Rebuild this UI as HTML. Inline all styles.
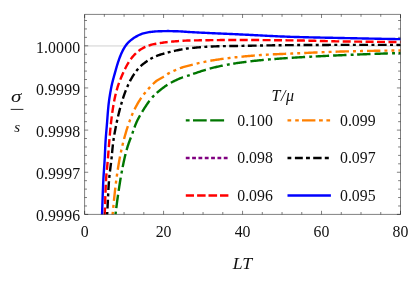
<!DOCTYPE html>
<html><head><meta charset="utf-8"><title>plot</title>
<style>
html,body{margin:0;padding:0;background:#fff}
svg{display:block;will-change:transform}
text{font-family:"Liberation Serif",serif;fill:#111}
.it{font-style:italic}
</style></head>
<body>
<svg width="415" height="286" viewBox="0 0 415 286">
<rect width="415" height="286" fill="#fff"/>
<defs><clipPath id="c"><rect x="84.6" y="14.4" width="315.9" height="200.0"/></clipPath></defs>
<line x1="84.6" y1="45.949999999999996" x2="400.5" y2="45.949999999999996" stroke="#d0d0d0" stroke-width="1"/>
<g clip-path="url(#c)" fill="none" stroke-width="2.4">
<path d="M114.60 222.80 L114.70 221.83 L114.80 220.85 L114.90 219.88 L115.00 218.90 L115.10 217.93 L115.21 216.96 L115.32 215.98 L115.43 215.01 L115.55 214.04 L115.66 213.07 L115.78 212.10 L115.90 211.12 L116.02 210.15 L116.14 209.18 L116.26 208.21 L116.38 207.24 L116.51 206.27 L116.63 205.29 L116.76 204.32 L116.89 203.35 L117.02 202.38 L117.15 201.41 L117.28 200.44 L117.41 199.47 L117.54 198.50 L117.68 197.53 L117.81 196.56 L117.95 195.59 L118.09 194.62 L118.23 193.65 L118.37 192.68 L118.51 191.71 L118.65 190.74 L118.80 189.77 L118.94 188.81 L119.09 187.84 L119.24 186.87 L119.39 185.90 L119.54 184.94 L119.69 183.97 L119.84 183.00 L120.00 182.04 L120.16 181.07 L120.31 180.11 L120.47 179.14 L120.63 178.18 L120.80 177.21 L120.96 176.25 L121.13 175.28 L121.30 174.32 L121.48 173.35 L121.65 172.39 L121.83 171.42 L122.01 170.46 L122.19 169.50 L122.37 168.54 L122.56 167.57 L122.75 166.61 L122.94 165.65 L123.14 164.69 L123.34 163.73 L123.54 162.78 L123.74 161.82 L123.95 160.86 L124.15 159.91 L124.37 158.95 L124.58 158.00 L124.80 157.04 L125.03 156.09 L125.26 155.14 L125.50 154.19 L125.74 153.24 L125.99 152.29 L126.24 151.34 L126.50 150.40 L126.77 149.46 L127.04 148.52 L127.32 147.58 L127.60 146.65 L127.90 145.71 L128.20 144.79 L128.52 143.86 L128.84 142.94 L129.18 142.02 L129.51 141.10 L129.85 140.18 L130.20 139.26 L130.54 138.34 L130.89 137.42 L131.23 136.50 L131.57 135.59 L131.91 134.67 L132.24 133.75 L132.57 132.82 L132.90 131.89 L133.22 130.97 L133.55 130.04 L133.87 129.11 L134.20 128.19 L134.53 127.26 L134.87 126.35 L135.22 125.43 L135.58 124.52 L135.95 123.62 L136.33 122.72 L136.72 121.83 L137.13 120.95 L137.55 120.07 L137.99 119.20 L138.44 118.33 L138.90 117.46 L139.37 116.60 L139.85 115.74 L140.33 114.88 L140.83 114.03 L141.33 113.19 L141.84 112.35 L142.35 111.51 L142.86 110.68 L143.38 109.85 L143.90 109.02 L144.42 108.20 L144.95 107.37 L145.49 106.54 L146.03 105.72 L146.58 104.89 L147.13 104.07 L147.69 103.26 L148.26 102.45 L148.84 101.65 L149.42 100.86 L150.02 100.09 L150.63 99.32 L151.24 98.57 L151.87 97.83 L152.51 97.11 L153.16 96.41 L153.83 95.71 L154.51 95.02 L155.21 94.34 L155.93 93.67 L156.66 93.01 L157.40 92.36 L158.15 91.72 L158.90 91.08 L159.67 90.46 L160.44 89.84 L161.22 89.23 L162.01 88.64 L162.79 88.05 L163.58 87.46 L164.37 86.89 L165.16 86.33 L165.97 85.77 L166.78 85.23 L167.61 84.70 L168.44 84.17 L169.28 83.67 L170.13 83.17 L170.98 82.69 L171.84 82.22 L172.70 81.77 L173.57 81.32 L174.45 80.89 L175.33 80.46 L176.22 80.04 L177.12 79.63 L178.01 79.23 L178.92 78.84 L179.82 78.47 L180.73 78.10 L181.64 77.75 L182.55 77.41 L183.47 77.08 L184.40 76.77 L185.33 76.47 L186.27 76.17 L187.20 75.87 L188.14 75.58 L189.07 75.28 L190.00 74.97 L190.93 74.67 L191.86 74.36 L192.79 74.05 L193.72 73.73 L194.65 73.42 L195.58 73.10 L196.51 72.79 L197.44 72.47 L198.37 72.16 L199.30 71.85 L200.23 71.54 L201.16 71.23 L202.10 70.92 L203.03 70.62 L203.96 70.32 L204.90 70.03 L205.83 69.74 L206.77 69.45 L207.71 69.18 L208.65 68.90 L209.59 68.64 L210.53 68.38 L211.47 68.13 L212.41 67.89 L213.36 67.65 L214.31 67.43 L215.26 67.21 L216.21 66.99 L217.16 66.78 L218.12 66.57 L219.07 66.36 L220.03 66.15 L220.99 65.95 L221.95 65.76 L222.91 65.56 L223.87 65.37 L224.83 65.18 L225.80 65.00 L226.76 64.82 L227.73 64.64 L228.69 64.46 L229.66 64.29 L230.62 64.12 L231.59 63.96 L232.56 63.80 L233.53 63.64 L234.49 63.48 L235.46 63.33 L236.43 63.18 L237.40 63.03 L238.36 62.89 L239.33 62.75 L240.30 62.62 L241.27 62.48 L242.24 62.35 L243.21 62.22 L244.18 62.09 L245.15 61.96 L246.12 61.84 L247.09 61.72 L248.06 61.60 L249.03 61.48 L250.01 61.36 L250.98 61.25 L251.95 61.14 L252.93 61.03 L253.90 60.92 L254.88 60.81 L255.85 60.71 L256.82 60.61 L257.80 60.50 L258.77 60.40 L259.75 60.31 L260.72 60.21 L261.70 60.12 L262.67 60.02 L263.65 59.93 L264.62 59.84 L265.59 59.75 L266.57 59.67 L267.54 59.58 L268.52 59.50 L269.49 59.41 L270.47 59.33 L271.45 59.25 L272.42 59.17 L273.40 59.09 L274.37 59.01 L275.35 58.93 L276.33 58.86 L277.30 58.78 L278.28 58.71 L279.26 58.63 L280.23 58.56 L281.21 58.49 L282.19 58.42 L283.16 58.35 L284.14 58.28 L285.12 58.22 L286.09 58.15 L287.07 58.08 L288.05 58.02 L289.02 57.95 L290.00 57.89 L290.98 57.83 L291.95 57.77 L292.93 57.70 L293.91 57.64 L294.89 57.58 L295.86 57.52 L296.84 57.47 L297.82 57.41 L298.79 57.35 L299.77 57.29 L300.75 57.23 L301.73 57.18 L302.70 57.12 L303.68 57.06 L304.66 57.01 L305.64 56.95 L306.61 56.90 L307.59 56.85 L308.57 56.79 L309.55 56.74 L310.52 56.69 L311.50 56.63 L312.48 56.58 L313.46 56.53 L314.43 56.48 L315.41 56.43 L316.39 56.38 L317.37 56.33 L318.35 56.28 L319.32 56.23 L320.30 56.18 L321.28 56.13 L322.26 56.08 L323.24 56.03 L324.21 55.99 L325.19 55.94 L326.17 55.89 L327.15 55.84 L328.13 55.80 L329.10 55.75 L330.08 55.71 L331.06 55.66 L332.04 55.62 L333.02 55.57 L333.99 55.53 L334.97 55.48 L335.95 55.44 L336.93 55.39 L337.91 55.35 L338.88 55.31 L339.86 55.26 L340.84 55.22 L341.82 55.18 L342.80 55.14 L343.78 55.09 L344.75 55.05 L345.73 55.01 L346.71 54.97 L347.69 54.93 L348.67 54.89 L349.64 54.85 L350.62 54.81 L351.60 54.77 L352.58 54.73 L353.56 54.69 L354.53 54.65 L355.51 54.61 L356.49 54.57 L357.47 54.53 L358.45 54.49 L359.43 54.45 L360.40 54.41 L361.38 54.37 L362.36 54.33 L363.34 54.30 L364.32 54.26 L365.30 54.22 L366.27 54.18 L367.25 54.15 L368.23 54.11 L369.21 54.07 L370.19 54.04 L371.17 54.00 L372.14 53.96 L373.12 53.93 L374.10 53.89 L375.08 53.86 L376.06 53.82 L377.04 53.79 L378.01 53.75 L378.99 53.72 L379.97 53.68 L380.95 53.65 L381.93 53.61 L382.91 53.58 L383.88 53.55 L384.86 53.52 L385.84 53.48 L386.82 53.45 L387.80 53.42 L388.78 53.39 L389.76 53.36 L390.73 53.32 L391.71 53.29 L392.69 53.26 L393.67 53.23 L394.65 53.20 L395.63 53.17 L396.61 53.14 L397.59 53.11 L398.56 53.08 L399.54 53.06 L400.52 53.03 L401.50 53.00" stroke="#007600" stroke-dasharray="13.4 4 13.4 4.2 2.9 3.54" stroke-dashoffset="26.62"/>
<path d="M111.80 222.80 L111.89 221.80 L111.98 220.79 L112.07 219.79 L112.17 218.79 L112.26 217.78 L112.36 216.78 L112.45 215.78 L112.55 214.77 L112.65 213.77 L112.75 212.77 L112.85 211.77 L112.95 210.76 L113.04 209.76 L113.14 208.76 L113.24 207.75 L113.34 206.75 L113.44 205.75 L113.54 204.75 L113.64 203.74 L113.74 202.74 L113.84 201.74 L113.94 200.73 L114.05 199.73 L114.15 198.73 L114.25 197.73 L114.36 196.72 L114.47 195.72 L114.57 194.72 L114.68 193.72 L114.79 192.72 L114.90 191.71 L115.01 190.71 L115.13 189.71 L115.24 188.71 L115.36 187.71 L115.47 186.71 L115.59 185.71 L115.71 184.71 L115.83 183.71 L115.96 182.71 L116.08 181.71 L116.21 180.71 L116.34 179.71 L116.47 178.72 L116.61 177.72 L116.74 176.72 L116.88 175.72 L117.02 174.72 L117.17 173.73 L117.31 172.73 L117.46 171.73 L117.61 170.73 L117.77 169.74 L117.92 168.74 L118.08 167.75 L118.24 166.75 L118.40 165.76 L118.57 164.76 L118.73 163.77 L118.90 162.77 L119.07 161.78 L119.25 160.79 L119.42 159.80 L119.60 158.81 L119.78 157.82 L119.97 156.83 L120.16 155.84 L120.36 154.85 L120.56 153.86 L120.76 152.87 L120.97 151.89 L121.19 150.90 L121.40 149.92 L121.63 148.94 L121.85 147.95 L122.08 146.97 L122.31 145.99 L122.54 145.01 L122.78 144.03 L123.02 143.05 L123.26 142.07 L123.51 141.10 L123.76 140.12 L124.02 139.14 L124.28 138.17 L124.54 137.20 L124.81 136.22 L125.08 135.25 L125.36 134.29 L125.64 133.32 L125.92 132.36 L126.21 131.39 L126.51 130.43 L126.81 129.47 L127.11 128.50 L127.41 127.54 L127.72 126.58 L128.04 125.62 L128.36 124.66 L128.69 123.70 L129.02 122.75 L129.36 121.79 L129.70 120.84 L130.05 119.90 L130.40 118.95 L130.77 118.01 L131.14 117.08 L131.51 116.15 L131.89 115.22 L132.28 114.30 L132.68 113.38 L133.10 112.47 L133.52 111.55 L133.95 110.63 L134.39 109.72 L134.83 108.81 L135.29 107.91 L135.76 107.01 L136.24 106.11 L136.72 105.22 L137.21 104.34 L137.72 103.46 L138.23 102.59 L138.74 101.72 L139.27 100.87 L139.80 100.02 L140.34 99.19 L140.89 98.36 L141.46 97.54 L142.04 96.72 L142.64 95.91 L143.25 95.10 L143.86 94.30 L144.49 93.51 L145.13 92.72 L145.78 91.94 L146.44 91.16 L147.10 90.40 L147.77 89.63 L148.44 88.88 L149.11 88.13 L149.79 87.38 L150.48 86.64 L151.16 85.91 L151.85 85.17 L152.56 84.44 L153.27 83.72 L154.00 83.01 L154.75 82.33 L155.51 81.69 L156.29 81.08 L157.11 80.51 L157.95 79.96 L158.81 79.44 L159.68 78.93 L160.57 78.43 L161.45 77.94 L162.33 77.43 L163.20 76.91 L164.05 76.37 L164.89 75.81 L165.72 75.23 L166.56 74.67 L167.40 74.12 L168.26 73.61 L169.14 73.13 L170.04 72.66 L170.94 72.21 L171.85 71.78 L172.77 71.35 L173.68 70.92 L174.60 70.50 L175.51 70.07 L176.43 69.64 L177.34 69.22 L178.27 68.82 L179.20 68.45 L180.14 68.11 L181.09 67.80 L182.05 67.50 L183.02 67.21 L183.99 66.94 L184.96 66.68 L185.94 66.42 L186.91 66.17 L187.89 65.92 L188.88 65.67 L189.86 65.42 L190.83 65.17 L191.81 64.91 L192.78 64.65 L193.75 64.38 L194.72 64.10 L195.69 63.82 L196.66 63.56 L197.64 63.31 L198.62 63.09 L199.60 62.87 L200.59 62.66 L201.58 62.45 L202.56 62.26 L203.55 62.06 L204.54 61.87 L205.53 61.68 L206.52 61.48 L207.51 61.29 L208.50 61.10 L209.49 60.91 L210.48 60.73 L211.47 60.55 L212.47 60.38 L213.46 60.22 L214.46 60.06 L215.45 59.91 L216.45 59.76 L217.44 59.61 L218.44 59.47 L219.44 59.32 L220.43 59.18 L221.43 59.04 L222.43 58.91 L223.43 58.77 L224.43 58.64 L225.43 58.51 L226.43 58.38 L227.43 58.25 L228.43 58.13 L229.43 58.01 L230.43 57.89 L231.43 57.77 L232.43 57.65 L233.43 57.54 L234.44 57.42 L235.44 57.31 L236.44 57.21 L237.44 57.10 L238.44 57.00 L239.45 56.90 L240.45 56.80 L241.45 56.70 L242.45 56.60 L243.45 56.50 L244.46 56.40 L245.46 56.31 L246.46 56.21 L247.47 56.12 L248.47 56.03 L249.48 55.94 L250.48 55.85 L251.48 55.76 L252.49 55.68 L253.49 55.60 L254.50 55.51 L255.50 55.43 L256.51 55.35 L257.51 55.28 L258.52 55.20 L259.52 55.13 L260.53 55.06 L261.53 54.99 L262.54 54.93 L263.54 54.86 L264.55 54.80 L265.55 54.74 L266.56 54.69 L267.56 54.63 L268.57 54.58 L269.58 54.52 L270.58 54.47 L271.59 54.42 L272.59 54.37 L273.60 54.32 L274.61 54.28 L275.61 54.23 L276.62 54.19 L277.63 54.14 L278.63 54.10 L279.64 54.05 L280.65 54.01 L281.65 53.97 L282.66 53.93 L283.67 53.89 L284.68 53.85 L285.68 53.80 L286.69 53.76 L287.70 53.72 L288.70 53.68 L289.71 53.64 L290.72 53.60 L291.72 53.55 L292.73 53.51 L293.74 53.47 L294.74 53.42 L295.75 53.38 L296.76 53.34 L297.76 53.29 L298.77 53.25 L299.78 53.20 L300.78 53.16 L301.79 53.11 L302.80 53.07 L303.80 53.02 L304.81 52.98 L305.82 52.93 L306.82 52.88 L307.83 52.84 L308.84 52.79 L309.84 52.75 L310.85 52.70 L311.86 52.66 L312.86 52.61 L313.87 52.57 L314.88 52.52 L315.88 52.48 L316.89 52.43 L317.90 52.39 L318.90 52.35 L319.91 52.30 L320.92 52.26 L321.92 52.22 L322.93 52.17 L323.94 52.13 L324.94 52.09 L325.95 52.05 L326.96 52.01 L327.96 51.97 L328.97 51.93 L329.98 51.90 L330.99 51.86 L331.99 51.82 L333.00 51.79 L334.01 51.75 L335.01 51.72 L336.02 51.68 L337.03 51.65 L338.03 51.62 L339.04 51.59 L340.05 51.56 L341.05 51.53 L342.06 51.50 L343.07 51.47 L344.08 51.45 L345.08 51.42 L346.09 51.40 L347.10 51.37 L348.10 51.35 L349.11 51.33 L350.12 51.31 L351.13 51.28 L352.13 51.26 L353.14 51.24 L354.15 51.21 L355.15 51.19 L356.16 51.17 L357.17 51.15 L358.18 51.13 L359.18 51.10 L360.19 51.08 L361.20 51.06 L362.21 51.04 L363.21 51.02 L364.22 51.00 L365.23 50.98 L366.24 50.96 L367.24 50.94 L368.25 50.92 L369.26 50.90 L370.26 50.88 L371.27 50.86 L372.28 50.85 L373.29 50.83 L374.29 50.81 L375.30 50.79 L376.31 50.78 L377.32 50.76 L378.32 50.74 L379.33 50.73 L380.34 50.71 L381.35 50.70 L382.35 50.68 L383.36 50.67 L384.37 50.65 L385.38 50.64 L386.38 50.63 L387.39 50.62 L388.40 50.60 L389.41 50.59 L390.42 50.58 L391.42 50.57 L392.43 50.56 L393.44 50.55 L394.45 50.54 L395.45 50.54 L396.46 50.53 L397.47 50.52 L398.48 50.52 L399.48 50.51 L400.49 50.50 L401.50 50.50" stroke="#ff8000" stroke-dasharray="13.4 4.05 2.95 4.05 2.95 4.015" stroke-dashoffset="9.385"/>
<path d="M106.60 222.80 L106.67 221.73 L106.75 220.66 L106.82 219.59 L106.89 218.52 L106.96 217.45 L107.03 216.38 L107.10 215.31 L107.16 214.24 L107.23 213.17 L107.29 212.10 L107.35 211.03 L107.40 209.96 L107.46 208.89 L107.52 207.82 L107.57 206.74 L107.62 205.67 L107.67 204.60 L107.73 203.53 L107.78 202.46 L107.83 201.39 L107.88 200.32 L107.93 199.24 L107.98 198.17 L108.03 197.10 L108.09 196.03 L108.14 194.96 L108.19 193.89 L108.25 192.82 L108.31 191.75 L108.36 190.68 L108.42 189.60 L108.48 188.53 L108.55 187.46 L108.61 186.40 L108.68 185.33 L108.75 184.26 L108.83 183.19 L108.90 182.12 L108.98 181.05 L109.06 179.98 L109.16 178.92 L109.25 177.85 L109.36 176.78 L109.47 175.72 L109.59 174.65 L109.71 173.59 L109.83 172.52 L109.96 171.46 L110.09 170.39 L110.22 169.33 L110.36 168.26 L110.49 167.20 L110.63 166.13 L110.76 165.07 L110.89 164.00 L111.02 162.94 L111.15 161.87 L111.28 160.81 L111.40 159.74 L111.51 158.68 L111.62 157.61 L111.73 156.54 L111.84 155.48 L111.94 154.41 L112.04 153.34 L112.14 152.27 L112.24 151.20 L112.34 150.14 L112.44 149.07 L112.55 148.00 L112.66 146.93 L112.77 145.87 L112.89 144.80 L113.01 143.74 L113.14 142.68 L113.28 141.62 L113.42 140.55 L113.57 139.49 L113.73 138.43 L113.90 137.37 L114.07 136.32 L114.25 135.26 L114.43 134.20 L114.62 133.14 L114.81 132.09 L115.01 131.03 L115.21 129.98 L115.41 128.92 L115.62 127.87 L115.83 126.82 L116.04 125.77 L116.26 124.71 L116.47 123.67 L116.69 122.62 L116.91 121.57 L117.14 120.52 L117.36 119.47 L117.60 118.43 L117.83 117.38 L118.08 116.34 L118.32 115.29 L118.57 114.25 L118.83 113.20 L119.09 112.16 L119.35 111.12 L119.62 110.08 L119.89 109.04 L120.17 108.00 L120.45 106.97 L120.73 105.93 L121.02 104.90 L121.32 103.87 L121.62 102.85 L121.92 101.82 L122.23 100.80 L122.55 99.77 L122.87 98.75 L123.21 97.73 L123.54 96.71 L123.89 95.69 L124.24 94.67 L124.60 93.66 L124.97 92.65 L125.35 91.64 L125.73 90.64 L126.13 89.64 L126.53 88.65 L126.93 87.66 L127.35 86.68 L127.78 85.70 L128.22 84.73 L128.68 83.75 L129.15 82.78 L129.63 81.82 L130.12 80.86 L130.63 79.91 L131.15 78.97 L131.68 78.04 L132.22 77.12 L132.78 76.21 L133.34 75.31 L133.93 74.40 L134.53 73.50 L135.14 72.61 L135.78 71.73 L136.42 70.86 L137.09 70.02 L137.77 69.19 L138.47 68.39 L139.18 67.61 L139.92 66.86 L140.69 66.12 L141.49 65.40 L142.31 64.70 L143.15 64.01 L144.01 63.35 L144.87 62.70 L145.74 62.07 L146.62 61.46 L147.50 60.86 L148.40 60.27 L149.30 59.69 L150.23 59.13 L151.16 58.58 L152.10 58.05 L153.05 57.55 L154.01 57.07 L154.98 56.62 L155.96 56.21 L156.94 55.82 L157.94 55.45 L158.96 55.10 L159.98 54.76 L161.01 54.43 L162.04 54.12 L163.07 53.81 L164.11 53.52 L165.14 53.23 L166.17 52.94 L167.21 52.66 L168.24 52.39 L169.28 52.12 L170.32 51.86 L171.37 51.60 L172.41 51.35 L173.46 51.11 L174.50 50.87 L175.55 50.64 L176.60 50.42 L177.65 50.21 L178.70 50.00 L179.75 49.80 L180.81 49.60 L181.86 49.40 L182.92 49.20 L183.98 49.02 L185.04 48.84 L186.10 48.68 L187.16 48.53 L188.22 48.39 L189.28 48.27 L190.35 48.15 L191.41 48.04 L192.47 47.93 L193.54 47.82 L194.61 47.72 L195.67 47.61 L196.74 47.51 L197.81 47.42 L198.88 47.32 L199.95 47.23 L201.02 47.14 L202.09 47.06 L203.16 46.98 L204.23 46.90 L205.30 46.83 L206.38 46.76 L207.45 46.70 L208.52 46.64 L209.59 46.58 L210.66 46.53 L211.73 46.48 L212.80 46.44 L213.87 46.40 L214.94 46.37 L216.02 46.34 L217.09 46.31 L218.16 46.28 L219.23 46.25 L220.30 46.23 L221.37 46.21 L222.44 46.18 L223.52 46.16 L224.59 46.14 L225.66 46.12 L226.73 46.10 L227.81 46.08 L228.88 46.06 L229.95 46.05 L231.02 46.03 L232.10 46.01 L233.17 46.00 L234.24 45.98 L235.31 45.96 L236.39 45.94 L237.46 45.93 L238.53 45.91 L239.60 45.89 L240.67 45.87 L241.75 45.85 L242.82 45.83 L243.89 45.81 L244.96 45.79 L246.03 45.78 L247.11 45.76 L248.18 45.74 L249.25 45.72 L250.32 45.70 L251.39 45.68 L252.47 45.66 L253.54 45.64 L254.61 45.62 L255.68 45.60 L256.75 45.58 L257.83 45.56 L258.90 45.54 L259.97 45.53 L261.04 45.51 L262.11 45.49 L263.19 45.47 L264.26 45.45 L265.33 45.43 L266.40 45.42 L267.48 45.40 L268.55 45.38 L269.62 45.37 L270.69 45.35 L271.76 45.33 L272.84 45.32 L273.91 45.30 L274.98 45.29 L276.05 45.27 L277.12 45.26 L278.20 45.24 L279.27 45.23 L280.34 45.22 L281.41 45.20 L282.49 45.19 L283.56 45.18 L284.63 45.17 L285.70 45.16 L286.77 45.15 L287.85 45.14 L288.92 45.13 L289.99 45.12 L291.06 45.11 L292.13 45.11 L293.21 45.10 L294.28 45.09 L295.35 45.09 L296.42 45.08 L297.50 45.07 L298.57 45.07 L299.64 45.06 L300.71 45.05 L301.78 45.05 L302.86 45.04 L303.93 45.04 L305.00 45.03 L306.07 45.02 L307.14 45.02 L308.22 45.01 L309.29 45.01 L310.36 45.00 L311.43 45.00 L312.51 44.99 L313.58 44.99 L314.65 44.98 L315.72 44.98 L316.79 44.97 L317.87 44.97 L318.94 44.96 L320.01 44.96 L321.08 44.95 L322.16 44.95 L323.23 44.95 L324.30 44.94 L325.37 44.94 L326.44 44.93 L327.52 44.93 L328.59 44.93 L329.66 44.92 L330.73 44.92 L331.81 44.92 L332.88 44.92 L333.95 44.91 L335.02 44.91 L336.09 44.91 L337.17 44.91 L338.24 44.91 L339.31 44.90 L340.38 44.90 L341.46 44.90 L342.53 44.90 L343.60 44.90 L344.67 44.90 L345.74 44.90 L346.82 44.90 L347.89 44.90 L348.96 44.90 L350.03 44.90 L351.11 44.90 L352.18 44.90 L353.25 44.90 L354.32 44.90 L355.39 44.90 L356.47 44.90 L357.54 44.90 L358.61 44.90 L359.68 44.90 L360.76 44.90 L361.83 44.90 L362.90 44.90 L363.97 44.90 L365.04 44.90 L366.12 44.90 L367.19 44.90 L368.26 44.90 L369.33 44.90 L370.41 44.90 L371.48 44.90 L372.55 44.90 L373.62 44.90 L374.69 44.90 L375.77 44.90 L376.84 44.90 L377.91 44.90 L378.98 44.90 L380.06 44.90 L381.13 44.90 L382.20 44.90 L383.27 44.90 L384.34 44.90 L385.42 44.90 L386.49 44.90 L387.56 44.90 L388.63 44.90 L389.71 44.90 L390.78 44.90 L391.85 44.90 L392.92 44.90 L393.99 44.90 L395.07 44.90 L396.14 44.90 L397.21 44.90 L398.28 44.90 L399.36 44.90 L400.43 44.90 L401.50 44.90" stroke="#000000" stroke-dasharray="8.8 3.4 2.97 3.4" stroke-dashoffset="4.295"/>
<path d="M104.40 222.80 L104.44 221.69 L104.49 220.58 L104.53 219.47 L104.58 218.36 L104.62 217.25 L104.67 216.13 L104.71 215.02 L104.75 213.91 L104.79 212.80 L104.83 211.69 L104.87 210.58 L104.91 209.47 L104.95 208.36 L104.99 207.24 L105.02 206.13 L105.06 205.02 L105.10 203.91 L105.13 202.80 L105.17 201.69 L105.20 200.58 L105.24 199.46 L105.28 198.35 L105.31 197.24 L105.35 196.13 L105.39 195.02 L105.43 193.91 L105.47 192.80 L105.51 191.69 L105.55 190.57 L105.60 189.46 L105.64 188.35 L105.69 187.24 L105.74 186.13 L105.79 185.02 L105.84 183.91 L105.90 182.80 L105.95 181.69 L106.01 180.58 L106.08 179.48 L106.15 178.37 L106.23 177.26 L106.31 176.15 L106.40 175.04 L106.49 173.93 L106.59 172.83 L106.69 171.72 L106.80 170.61 L106.90 169.51 L107.01 168.40 L107.12 167.29 L107.22 166.18 L107.33 165.08 L107.44 163.97 L107.54 162.86 L107.64 161.75 L107.74 160.65 L107.84 159.54 L107.93 158.43 L108.02 157.32 L108.11 156.21 L108.19 155.11 L108.28 154.00 L108.36 152.89 L108.45 151.78 L108.53 150.67 L108.61 149.56 L108.70 148.45 L108.78 147.35 L108.87 146.24 L108.96 145.13 L109.05 144.02 L109.14 142.91 L109.23 141.81 L109.33 140.70 L109.42 139.59 L109.52 138.48 L109.61 137.37 L109.71 136.27 L109.81 135.16 L109.91 134.05 L110.01 132.94 L110.11 131.84 L110.21 130.73 L110.32 129.62 L110.42 128.51 L110.53 127.41 L110.65 126.30 L110.76 125.20 L110.88 124.09 L111.00 122.99 L111.12 121.88 L111.25 120.78 L111.38 119.68 L111.52 118.57 L111.65 117.47 L111.79 116.36 L111.93 115.26 L112.08 114.15 L112.23 113.05 L112.38 111.95 L112.54 110.85 L112.70 109.74 L112.87 108.64 L113.04 107.55 L113.21 106.45 L113.40 105.35 L113.58 104.26 L113.77 103.17 L113.97 102.07 L114.17 100.98 L114.39 99.89 L114.61 98.81 L114.84 97.72 L115.09 96.63 L115.34 95.54 L115.60 94.46 L115.87 93.38 L116.15 92.30 L116.43 91.22 L116.73 90.15 L117.03 89.08 L117.34 88.01 L117.65 86.95 L117.98 85.90 L118.33 84.84 L118.69 83.79 L119.07 82.75 L119.46 81.70 L119.87 80.66 L120.28 79.63 L120.70 78.60 L121.13 77.57 L121.57 76.54 L122.00 75.52 L122.44 74.50 L122.89 73.48 L123.34 72.47 L123.81 71.45 L124.28 70.43 L124.76 69.43 L125.25 68.42 L125.75 67.43 L126.27 66.45 L126.80 65.47 L127.34 64.51 L127.90 63.56 L128.48 62.62 L129.08 61.67 L129.69 60.73 L130.33 59.81 L130.98 58.89 L131.66 57.99 L132.35 57.12 L133.06 56.27 L133.78 55.44 L134.53 54.65 L135.31 53.86 L136.11 53.08 L136.95 52.32 L137.80 51.58 L138.68 50.87 L139.58 50.19 L140.49 49.56 L141.41 48.97 L142.35 48.43 L143.32 47.90 L144.31 47.40 L145.33 46.91 L146.36 46.46 L147.41 46.03 L148.46 45.64 L149.52 45.29 L150.57 44.98 L151.63 44.70 L152.71 44.44 L153.79 44.20 L154.88 43.97 L155.98 43.76 L157.08 43.57 L158.19 43.38 L159.29 43.20 L160.39 43.03 L161.49 42.87 L162.59 42.71 L163.69 42.56 L164.79 42.41 L165.89 42.27 L167.00 42.13 L168.10 42.00 L169.21 41.88 L170.32 41.77 L171.42 41.66 L172.53 41.56 L173.64 41.46 L174.74 41.37 L175.85 41.28 L176.96 41.19 L178.07 41.10 L179.18 41.01 L180.29 40.93 L181.40 40.85 L182.51 40.78 L183.62 40.71 L184.73 40.65 L185.84 40.60 L186.95 40.56 L188.06 40.52 L189.17 40.50 L190.28 40.47 L191.39 40.45 L192.50 40.43 L193.61 40.41 L194.72 40.39 L195.84 40.37 L196.95 40.36 L198.06 40.34 L199.17 40.32 L200.28 40.30 L201.39 40.28 L202.50 40.27 L203.61 40.25 L204.73 40.24 L205.84 40.22 L206.95 40.21 L208.06 40.19 L209.17 40.18 L210.29 40.17 L211.40 40.15 L212.51 40.14 L213.62 40.13 L214.73 40.12 L215.85 40.11 L216.96 40.10 L218.07 40.09 L219.18 40.08 L220.29 40.07 L221.41 40.06 L222.52 40.06 L223.63 40.05 L224.74 40.04 L225.85 40.04 L226.97 40.03 L228.08 40.02 L229.19 40.02 L230.30 40.02 L231.41 40.01 L232.53 40.01 L233.64 40.01 L234.75 40.00 L235.86 40.00 L236.97 40.00 L238.09 40.00 L239.20 40.00 L240.31 40.00 L241.42 40.00 L242.53 40.00 L243.64 40.00 L244.76 40.01 L245.87 40.01 L246.98 40.01 L248.09 40.02 L249.20 40.02 L250.32 40.02 L251.43 40.03 L252.54 40.04 L253.65 40.04 L254.76 40.05 L255.87 40.05 L256.99 40.06 L258.10 40.07 L259.21 40.07 L260.32 40.08 L261.43 40.09 L262.54 40.10 L263.66 40.11 L264.77 40.12 L265.88 40.13 L266.99 40.13 L268.10 40.14 L269.22 40.15 L270.33 40.16 L271.44 40.17 L272.55 40.19 L273.66 40.20 L274.77 40.21 L275.89 40.22 L277.00 40.23 L278.11 40.24 L279.22 40.25 L280.33 40.26 L281.44 40.27 L282.56 40.29 L283.67 40.30 L284.78 40.31 L285.89 40.32 L287.00 40.33 L288.11 40.35 L289.23 40.36 L290.34 40.37 L291.45 40.38 L292.56 40.40 L293.67 40.41 L294.78 40.42 L295.90 40.44 L297.01 40.45 L298.12 40.47 L299.23 40.49 L300.34 40.51 L301.45 40.53 L302.57 40.55 L303.68 40.57 L304.79 40.59 L305.90 40.61 L307.01 40.64 L308.12 40.66 L309.23 40.69 L310.35 40.71 L311.46 40.74 L312.57 40.77 L313.68 40.79 L314.79 40.82 L315.90 40.85 L317.01 40.88 L318.13 40.90 L319.24 40.93 L320.35 40.96 L321.46 40.99 L322.57 41.02 L323.68 41.04 L324.79 41.07 L325.91 41.10 L327.02 41.13 L328.13 41.15 L329.24 41.18 L330.35 41.21 L331.46 41.23 L332.58 41.26 L333.69 41.28 L334.80 41.31 L335.91 41.33 L337.02 41.35 L338.13 41.37 L339.24 41.39 L340.36 41.41 L341.47 41.43 L342.58 41.45 L343.69 41.47 L344.80 41.48 L345.91 41.50 L347.03 41.51 L348.14 41.53 L349.25 41.54 L350.36 41.55 L351.47 41.57 L352.58 41.58 L353.70 41.60 L354.81 41.61 L355.92 41.62 L357.03 41.64 L358.14 41.65 L359.25 41.66 L360.37 41.67 L361.48 41.69 L362.59 41.70 L363.70 41.71 L364.81 41.72 L365.92 41.74 L367.04 41.75 L368.15 41.76 L369.26 41.77 L370.37 41.78 L371.48 41.79 L372.59 41.81 L373.71 41.82 L374.82 41.83 L375.93 41.84 L377.04 41.85 L378.15 41.86 L379.26 41.87 L380.38 41.88 L381.49 41.89 L382.60 41.89 L383.71 41.90 L384.82 41.91 L385.93 41.92 L387.05 41.93 L388.16 41.93 L389.27 41.94 L390.38 41.95 L391.49 41.96 L392.61 41.96 L393.72 41.97 L394.83 41.97 L395.94 41.98 L397.05 41.98 L398.16 41.99 L399.28 41.99 L400.39 42.00 L401.50 42.00" stroke="#ff0000" stroke-dasharray="8 3.445" stroke-dashoffset="4.21"/>
<path d="M101.70 222.80 L101.75 221.65 L101.79 220.49 L101.84 219.34 L101.89 218.19 L101.93 217.03 L101.98 215.88 L102.02 214.72 L102.07 213.57 L102.11 212.42 L102.15 211.26 L102.19 210.11 L102.23 208.95 L102.28 207.80 L102.32 206.65 L102.36 205.49 L102.39 204.34 L102.43 203.18 L102.47 202.03 L102.51 200.88 L102.55 199.72 L102.59 198.57 L102.63 197.41 L102.67 196.26 L102.71 195.11 L102.76 193.95 L102.80 192.80 L102.84 191.64 L102.88 190.49 L102.93 189.34 L102.98 188.18 L103.02 187.03 L103.07 185.88 L103.12 184.72 L103.17 183.57 L103.22 182.42 L103.28 181.26 L103.33 180.11 L103.39 178.96 L103.46 177.80 L103.53 176.65 L103.60 175.50 L103.67 174.35 L103.75 173.19 L103.83 172.04 L103.91 170.89 L103.99 169.74 L104.07 168.59 L104.15 167.43 L104.23 166.28 L104.31 165.13 L104.38 163.98 L104.46 162.83 L104.53 161.67 L104.60 160.52 L104.67 159.37 L104.73 158.21 L104.79 157.06 L104.85 155.91 L104.90 154.75 L104.95 153.60 L105.00 152.45 L105.05 151.29 L105.10 150.14 L105.16 148.99 L105.21 147.83 L105.26 146.68 L105.32 145.53 L105.38 144.37 L105.44 143.22 L105.51 142.07 L105.58 140.92 L105.66 139.76 L105.74 138.61 L105.83 137.46 L105.91 136.31 L106.01 135.16 L106.10 134.01 L106.20 132.86 L106.30 131.71 L106.39 130.56 L106.49 129.41 L106.59 128.25 L106.69 127.10 L106.79 125.95 L106.88 124.80 L106.98 123.65 L107.07 122.50 L107.16 121.35 L107.24 120.20 L107.33 119.04 L107.42 117.89 L107.50 116.74 L107.59 115.59 L107.68 114.44 L107.77 113.28 L107.87 112.13 L107.96 110.98 L108.06 109.83 L108.17 108.68 L108.28 107.53 L108.39 106.39 L108.51 105.24 L108.63 104.09 L108.77 102.95 L108.91 101.80 L109.06 100.66 L109.22 99.51 L109.38 98.37 L109.55 97.22 L109.73 96.08 L109.92 94.94 L110.11 93.80 L110.30 92.66 L110.51 91.52 L110.71 90.39 L110.93 89.25 L111.14 88.12 L111.36 86.99 L111.59 85.86 L111.84 84.73 L112.09 83.61 L112.36 82.49 L112.64 81.37 L112.93 80.25 L113.22 79.13 L113.53 78.01 L113.83 76.90 L114.14 75.78 L114.45 74.67 L114.76 73.56 L115.07 72.44 L115.38 71.33 L115.69 70.22 L116.00 69.10 L116.32 67.99 L116.64 66.88 L116.97 65.77 L117.30 64.66 L117.64 63.56 L117.99 62.46 L118.35 61.36 L118.72 60.27 L119.10 59.18 L119.49 58.10 L119.90 57.02 L120.33 55.94 L120.77 54.87 L121.23 53.80 L121.70 52.75 L122.19 51.70 L122.70 50.67 L123.23 49.66 L123.80 48.65 L124.39 47.65 L125.01 46.66 L125.66 45.70 L126.34 44.77 L127.05 43.88 L127.81 43.01 L128.62 42.17 L129.46 41.37 L130.33 40.62 L131.22 39.90 L132.14 39.19 L133.09 38.51 L134.05 37.86 L135.03 37.24 L136.02 36.66 L137.02 36.10 L138.04 35.55 L139.08 35.02 L140.14 34.53 L141.21 34.08 L142.29 33.70 L143.38 33.37 L144.49 33.08 L145.62 32.81 L146.76 32.58 L147.90 32.36 L149.04 32.18 L150.18 32.01 L151.33 31.84 L152.47 31.70 L153.62 31.57 L154.77 31.48 L155.92 31.41 L157.08 31.35 L158.23 31.30 L159.39 31.26 L160.54 31.23 L161.70 31.19 L162.85 31.16 L164.00 31.13 L165.16 31.10 L166.31 31.08 L167.47 31.07 L168.62 31.07 L169.78 31.09 L170.93 31.11 L172.09 31.14 L173.24 31.18 L174.39 31.21 L175.55 31.24 L176.70 31.28 L177.86 31.32 L179.01 31.37 L180.16 31.41 L181.32 31.47 L182.47 31.52 L183.62 31.60 L184.77 31.68 L185.93 31.77 L187.08 31.85 L188.23 31.94 L189.38 32.01 L190.53 32.08 L191.69 32.14 L192.84 32.21 L193.99 32.27 L195.14 32.34 L196.30 32.40 L197.45 32.46 L198.60 32.52 L199.76 32.58 L200.91 32.64 L202.06 32.70 L203.22 32.75 L204.37 32.81 L205.52 32.87 L206.68 32.92 L207.83 32.98 L208.98 33.03 L210.14 33.08 L211.29 33.14 L212.44 33.19 L213.60 33.24 L214.75 33.29 L215.90 33.34 L217.06 33.39 L218.21 33.45 L219.36 33.50 L220.52 33.55 L221.67 33.60 L222.83 33.65 L223.98 33.70 L225.13 33.75 L226.29 33.80 L227.44 33.85 L228.59 33.90 L229.75 33.95 L230.90 34.00 L232.05 34.05 L233.21 34.11 L234.36 34.16 L235.52 34.21 L236.67 34.26 L237.82 34.32 L238.98 34.37 L240.13 34.43 L241.28 34.48 L242.44 34.54 L243.59 34.59 L244.74 34.65 L245.90 34.71 L247.05 34.76 L248.20 34.82 L249.36 34.88 L250.51 34.94 L251.66 35.00 L252.82 35.06 L253.97 35.12 L255.12 35.18 L256.28 35.24 L257.43 35.30 L258.58 35.36 L259.73 35.42 L260.89 35.48 L262.04 35.54 L263.19 35.60 L264.35 35.66 L265.50 35.72 L266.65 35.77 L267.81 35.83 L268.96 35.89 L270.11 35.95 L271.27 36.00 L272.42 36.06 L273.57 36.11 L274.73 36.17 L275.88 36.22 L277.03 36.28 L278.19 36.33 L279.34 36.38 L280.50 36.43 L281.65 36.48 L282.80 36.53 L283.96 36.57 L285.11 36.62 L286.26 36.66 L287.42 36.70 L288.57 36.75 L289.72 36.79 L290.88 36.83 L292.03 36.86 L293.19 36.90 L294.34 36.93 L295.49 36.97 L296.65 37.00 L297.80 37.03 L298.96 37.07 L300.11 37.10 L301.26 37.13 L302.42 37.16 L303.57 37.19 L304.73 37.22 L305.88 37.25 L307.04 37.28 L308.19 37.30 L309.34 37.33 L310.50 37.36 L311.65 37.39 L312.81 37.41 L313.96 37.44 L315.12 37.46 L316.27 37.49 L317.42 37.51 L318.58 37.54 L319.73 37.56 L320.89 37.59 L322.04 37.61 L323.20 37.63 L324.35 37.66 L325.51 37.68 L326.66 37.70 L327.82 37.73 L328.97 37.75 L330.12 37.77 L331.28 37.80 L332.43 37.82 L333.59 37.84 L334.74 37.87 L335.90 37.89 L337.05 37.91 L338.21 37.94 L339.36 37.96 L340.51 37.98 L341.67 38.01 L342.82 38.03 L343.98 38.05 L345.13 38.08 L346.29 38.10 L347.44 38.13 L348.60 38.15 L349.75 38.17 L350.90 38.20 L352.06 38.22 L353.21 38.25 L354.37 38.27 L355.52 38.30 L356.68 38.32 L357.83 38.34 L358.99 38.37 L360.14 38.39 L361.29 38.41 L362.45 38.44 L363.60 38.46 L364.76 38.48 L365.91 38.51 L367.07 38.53 L368.22 38.55 L369.38 38.58 L370.53 38.60 L371.68 38.62 L372.84 38.65 L373.99 38.67 L375.15 38.69 L376.30 38.72 L377.46 38.74 L378.61 38.76 L379.77 38.78 L380.92 38.81 L382.07 38.83 L383.23 38.85 L384.38 38.87 L385.54 38.90 L386.69 38.92 L387.85 38.94 L389.00 38.96 L390.16 38.98 L391.31 39.01 L392.46 39.03 L393.62 39.05 L394.77 39.07 L395.93 39.09 L397.08 39.11 L398.24 39.14 L399.39 39.16 L400.55 39.18 L401.70 39.20" stroke="#0000ff"/>
</g>
<path d="M84.6 14.4H400.5V214.4H84.6ZM84.60 214.4v-3.6M84.60 14.4v3.6M104.34 214.4v-2.4M104.34 14.4v2.4M124.09 214.4v-2.4M124.09 14.4v2.4M143.83 214.4v-2.4M143.83 14.4v2.4M163.57 214.4v-3.6M163.57 14.4v3.6M183.32 214.4v-2.4M183.32 14.4v2.4M203.06 214.4v-2.4M203.06 14.4v2.4M222.81 214.4v-2.4M222.81 14.4v2.4M242.55 214.4v-3.6M242.55 14.4v3.6M262.29 214.4v-2.4M262.29 14.4v2.4M282.04 214.4v-2.4M282.04 14.4v2.4M301.78 214.4v-2.4M301.78 14.4v2.4M321.52 214.4v-3.6M321.52 14.4v3.6M341.27 214.4v-2.4M341.27 14.4v2.4M361.01 214.4v-2.4M361.01 14.4v2.4M380.76 214.4v-2.4M380.76 14.4v2.4M400.50 214.4v-3.6M400.50 14.4v3.6M84.6 214.40h3.6M400.5 214.40h-3.6M84.6 205.97h2.4M400.5 205.97h-2.4M84.6 197.54h2.4M400.5 197.54h-2.4M84.6 189.11h2.4M400.5 189.11h-2.4M84.6 180.68h2.4M400.5 180.68h-2.4M84.6 172.25h3.6M400.5 172.25h-3.6M84.6 163.82h2.4M400.5 163.82h-2.4M84.6 155.39h2.4M400.5 155.39h-2.4M84.6 146.96h2.4M400.5 146.96h-2.4M84.6 138.53h2.4M400.5 138.53h-2.4M84.6 130.10h3.6M400.5 130.10h-3.6M84.6 121.67h2.4M400.5 121.67h-2.4M84.6 113.24h2.4M400.5 113.24h-2.4M84.6 104.81h2.4M400.5 104.81h-2.4M84.6 96.38h2.4M400.5 96.38h-2.4M84.6 87.95h3.6M400.5 87.95h-3.6M84.6 79.52h2.4M400.5 79.52h-2.4M84.6 71.09h2.4M400.5 71.09h-2.4M84.6 62.66h2.4M400.5 62.66h-2.4M84.6 54.23h2.4M400.5 54.23h-2.4M84.6 45.80h3.6M400.5 45.80h-3.6M84.6 37.37h2.4M400.5 37.37h-2.4M84.6 28.94h2.4M400.5 28.94h-2.4M84.6 20.51h2.4M400.5 20.51h-2.4" fill="none" stroke="#000" stroke-width="0.5"/>
<text x="80.3" y="52.70" font-size="15.8" text-anchor="end" letter-spacing="0.16">1.0000</text>
<text x="80.3" y="94.85" font-size="15.8" text-anchor="end" letter-spacing="0.16">0.9999</text>
<text x="80.3" y="137.00" font-size="15.8" text-anchor="end" letter-spacing="0.16">0.9998</text>
<text x="80.3" y="179.15" font-size="15.8" text-anchor="end" letter-spacing="0.16">0.9997</text>
<text x="80.3" y="221.30" font-size="15.8" text-anchor="end" letter-spacing="0.16">0.9996</text>
<text x="84.60" y="237.3" font-size="15.8" text-anchor="middle">0</text>
<text x="163.57" y="237.3" font-size="15.8" text-anchor="middle">20</text>
<text x="242.55" y="237.3" font-size="15.8" text-anchor="middle">40</text>
<text x="321.52" y="237.3" font-size="15.8" text-anchor="middle">60</text>
<text x="400.50" y="237.3" font-size="15.8" text-anchor="middle">80</text>
<text class="it" x="232.7" y="268.6" font-size="16" textLength="19.4" lengthAdjust="spacingAndGlyphs">LT</text>
<text class="it" x="11.0" y="101.8" font-size="17" textLength="10.4" lengthAdjust="spacingAndGlyphs">σ</text>
<line x1="10.7" y1="109.4" x2="23.4" y2="109.4" stroke="#111" stroke-width="0.9"/>
<text class="it" x="17.1" y="132.2" font-size="15" text-anchor="middle">s</text>
<text class="it" x="283" y="101.4" font-size="16" text-anchor="middle" letter-spacing="0.5">T/μ</text>
<g fill="none" stroke-width="2.4">
<path d="M185.8 120.4H189.6M193 120.4H206.7M210.2 120.4H224.1" stroke="#007600"/>
<path d="M287.5 120.4H291.2M295.2 120.4H298.8M302 120.4H315.4M319 120.4H322.8M326.4 120.4H330.1" stroke="#ff8000"/>
<path d="M185.8 158.0H189.60000000000002M192.13000000000002 158.0H195.93000000000004M198.46 158.0H202.26000000000002M204.79000000000002 158.0H208.59000000000003M211.12 158.0H214.92000000000002M217.45000000000002 158.0H221.25000000000003M223.78000000000003 158.0H227.58000000000004" stroke="#800080"/>
<path d="M287.5 158.0H291.3M294.9 158.0H302.8M306 158.0H309.9M313.2 158.0H321.6M324.8 158.0H328.8" stroke="#000000"/>
<path d="M185.8 195.5H194M197.1 195.5H205.6M208.5 195.5H217.1M220 195.5H228.4" stroke="#ff0000"/>
<path d="M287.5 195.5H330.9" stroke="#0000ff"/>
</g>
<text x="255.05" y="125.80" font-size="15.8" text-anchor="middle">0.100</text>
<text x="357.8" y="125.80" font-size="15.8" text-anchor="middle">0.099</text>
<text x="255.05" y="163.40" font-size="15.8" text-anchor="middle">0.098</text>
<text x="357.8" y="163.40" font-size="15.8" text-anchor="middle">0.097</text>
<text x="255.05" y="200.90" font-size="15.8" text-anchor="middle">0.096</text>
<text x="357.8" y="200.90" font-size="15.8" text-anchor="middle">0.095</text>
</svg>
</body></html>
